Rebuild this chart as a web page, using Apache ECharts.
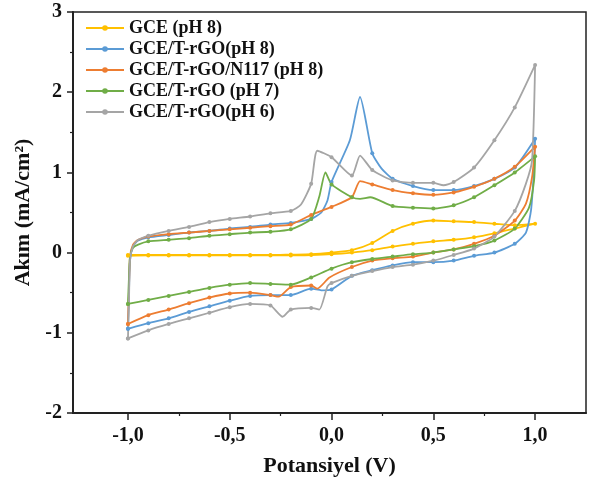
<!DOCTYPE html>
<html><head><meta charset="utf-8">
<script src="https://cdn.jsdelivr.net/npm/echarts@6/dist/echarts.min.js"></script>
<style>html,body{margin:0;padding:0;background:#fff}#c{width:594px;height:489px}</style>
</head><body><div id="c"></div>
<script>
const seriesNames = ['GCE (pH 8)', 'GCE/T-rGO(pH 8)', 'GCE/T-rGO/N117 (pH 8)', 'GCE/T-rGO (pH 7)', 'GCE/T-rGO(pH 6)'];
const xTickValues = [-1, -0.5, 0, 0.5, 1];
const xMinorTickValues = [-0.75, -0.25, 0.25, 0.75];
const yTickLabels = [-2, -1, 0, 1, 2, 3];

// GCE (pH 8)
const gceV = [-1.0,-0.9,-0.8,-0.7,-0.6,-0.5,-0.4,-0.3,-0.2,-0.1,0.0,0.1,0.2,0.3,0.4,0.5,0.6,0.7,0.8,0.9,1.0,
  0.9,0.8,0.7,0.6,0.5,0.4,0.3,0.2,0.1,0.0,-0.1,-0.2,-0.3,-0.4,-0.5,-0.6,-0.7,-0.8,-0.9,-1.0];
const gceI = [-0.03,-0.03,-0.03,-0.03,-0.03,-0.03,-0.03,-0.03,-0.025,-0.02,0.0,0.03,0.12,0.27,0.36,0.40,0.39,0.38,0.36,0.34,0.36,
  0.30,0.24,0.19,0.16,0.14,0.11,0.075,0.03,0.0,-0.02,-0.03,-0.035,-0.035,-0.035,-0.035,-0.035,-0.035,-0.035,-0.035,-0.04];

// GCE/T-rGO (pH 8)
const rgo8V = [-1.0,-0.995,-0.99,-0.975,-0.95,-0.9,-0.8,-0.7,-0.6,-0.5,-0.4,-0.3,-0.2,-0.1,-0.05,-0.02,0.0,0.09,0.14,0.2,0.245,0.3,0.4,0.5,0.6,0.7,0.8,0.9,1.0,
  0.995,0.98,0.955,0.9,0.8,0.7,0.6,0.5,0.4,0.3,0.2,0.1,0.0,-0.05,-0.1,-0.2,-0.3,-0.4,-0.5,-0.6,-0.7,-0.8,-0.9,-1.0];
const rgo8I = [-0.95,-0.5,-0.1,0.08,0.15,0.19,0.22,0.25,0.27,0.30,0.32,0.35,0.37,0.42,0.50,0.65,0.88,1.40,1.94,1.24,1.05,0.92,0.83,0.78,0.78,0.83,0.92,1.06,1.42,
  1.06,0.53,0.25,0.11,0.0,-0.04,-0.10,-0.12,-0.12,-0.16,-0.22,-0.29,-0.46,-0.47,-0.45,-0.53,-0.53,-0.54,-0.60,-0.67,-0.74,-0.82,-0.88,-0.95];

// GCE/T-rGO/N117 (pH 8)
const n117V = [-1.0,-0.995,-0.99,-0.975,-0.95,-0.9,-0.8,-0.7,-0.6,-0.5,-0.4,-0.3,-0.2,-0.1,0.0,0.1,0.14,0.2,0.3,0.4,0.5,0.6,0.7,0.8,0.9,1.0,
  0.985,0.955,0.9,0.8,0.7,0.6,0.5,0.4,0.3,0.2,0.1,-0.01,-0.07,-0.1,-0.2,-0.26,-0.3,-0.4,-0.5,-0.6,-0.7,-0.8,-0.9,-1.0];
const n117I = [-0.89,-0.45,-0.05,0.10,0.16,0.20,0.23,0.25,0.27,0.29,0.31,0.33,0.35,0.47,0.57,0.69,0.89,0.85,0.78,0.74,0.72,0.75,0.82,0.92,1.07,1.32,
  0.94,0.61,0.40,0.21,0.11,0.04,0.0,-0.05,-0.07,-0.10,-0.18,-0.31,-0.45,-0.41,-0.43,-0.55,-0.53,-0.50,-0.51,-0.56,-0.63,-0.71,-0.78,-0.89];

// GCE/T-rGO (pH 7)
const rgo7V = [-1.0,-0.995,-0.99,-0.975,-0.95,-0.9,-0.8,-0.7,-0.6,-0.5,-0.4,-0.3,-0.2,-0.1,-0.06,-0.03,0.0,0.1,0.14,0.19,0.3,0.4,0.5,0.6,0.7,0.8,0.9,1.0,
  0.995,0.97,0.9,0.8,0.7,0.6,0.5,0.4,0.3,0.2,0.1,0.0,-0.1,-0.2,-0.3,-0.4,-0.5,-0.6,-0.7,-0.8,-0.9,-1.0];
const rgo7I = [-0.64,-0.3,-0.05,0.06,0.10,0.14,0.16,0.18,0.21,0.23,0.25,0.26,0.29,0.42,0.70,1.0,0.85,0.69,0.67,0.69,0.58,0.56,0.55,0.59,0.69,0.84,1.0,1.2,
  0.9,0.56,0.30,0.15,0.08,0.04,0.0,-0.02,-0.05,-0.08,-0.12,-0.20,-0.31,-0.40,-0.39,-0.38,-0.40,-0.44,-0.49,-0.54,-0.59,-0.64];

// GCE/T-rGO (pH 6)
const rgo6V = [-1.0,-0.995,-0.99,-0.975,-0.95,-0.9,-0.8,-0.7,-0.6,-0.5,-0.4,-0.3,-0.2,-0.15,-0.1,-0.07,0.0,0.1,0.14,0.2,0.3,0.4,0.5,0.55,0.6,0.7,0.8,0.9,1.0,
  0.985,0.955,0.9,0.8,0.7,0.6,0.5,0.4,0.3,0.2,0.1,0.0,-0.02,-0.06,-0.1,-0.2,-0.24,-0.3,-0.4,-0.5,-0.6,-0.7,-0.8,-0.9,-1.0];
const rgo6I = [-1.07,-0.6,-0.1,0.08,0.16,0.21,0.27,0.32,0.38,0.42,0.45,0.49,0.52,0.60,0.86,1.27,1.19,0.96,1.21,1.03,0.90,0.87,0.87,0.84,0.88,1.06,1.40,1.81,2.34,
  1.15,0.86,0.52,0.20,0.05,-0.03,-0.10,-0.15,-0.18,-0.23,-0.29,-0.38,-0.42,-0.71,-0.69,-0.71,-0.80,-0.66,-0.64,-0.68,-0.75,-0.82,-0.89,-0.97,-1.07];

const colors = ['#FFC000', '#5B9BD5', '#ED7D31', '#70AD47', '#A5A5A5'];
const curves = [[gceV, gceI], [rgo8V, rgo8I], [n117V, n117I], [rgo7V, rgo7I], [rgo6V, rgo6I]];

const onGrid = v => Math.abs(v * 10 - Math.round(v * 10)) < 0.02;
const FONT = 'Liberation Serif';
const fmtX = v => v.toFixed(1).replace('.', ',');

const chart = echarts.init(document.getElementById('c'), null, {renderer: 'canvas'});
chart.setOption({
  animation: false,
  backgroundColor: '#fff',
  grid: {left: 73, right: 8, top: 12, bottom: 76, show: true, borderColor: '#222', borderWidth: 1.5, backgroundColor: 'transparent'},
  legend: {
    data: seriesNames, orient: 'vertical', left: 85, top: 19, padding: 0,
    itemWidth: 38, itemHeight: 7, itemGap: 3,
    textStyle: {fontFamily: FONT, fontWeight: 'bold', fontSize: 18, lineHeight: 17, color: '#111'}
  },
  xAxis: [{
    type: 'value', min: -1.27, max: 1.25,
    name: 'Potansiyel (V)', nameLocation: 'middle', nameGap: 42,
    nameTextStyle: {fontFamily: FONT, fontWeight: 'bold', fontSize: 22, color: '#111'},
    axisLine: {onZero: false, lineStyle: {color: '#222', width: 2}},
    axisTick: {show: true, customValues: xTickValues, length: 7, lineStyle: {color: '#222', width: 1.5}},
    axisLabel: {customValues: xTickValues, formatter: fmtX, margin: 13, fontFamily: FONT, fontWeight: 'bold', fontSize: 20, color: '#111'},
    splitLine: {show: false}
  }, {
    type: 'value', min: -1.27, max: 1.25, position: 'bottom',
    axisLine: {show: false, onZero: false}, axisLabel: {show: false}, splitLine: {show: false},
    axisTick: {show: true, customValues: xMinorTickValues, length: 3, lineStyle: {color: '#222', width: 1.2}}
  }],
  yAxis: {
    type: 'value', min: -2, max: 3, interval: 1,
    name: 'Akım (mA/cm²)', nameLocation: 'middle', nameGap: 37,
    nameTextStyle: {fontFamily: FONT, fontWeight: 'bold', fontSize: 22, color: '#111'},
    axisLine: {show: true, onZero: false, lineStyle: {color: '#222', width: 2}},
    axisTick: {show: true, length: 6, lineStyle: {color: '#222', width: 1.5}},
    minorTick: {show: true, splitNumber: 2, length: 3, lineStyle: {color: '#222', width: 1.2}},
    axisLabel: {margin: 11, fontFamily: FONT, fontWeight: 'bold', fontSize: 20, color: '#111',
      formatter: v => yTickLabels.includes(v) ? String(v) : ''},
    splitLine: {show: false}
  },
  series: curves.map((c, k) => ({
    name: seriesNames[k], type: 'line', xAxisIndex: 0,
    data: c[0].map((v, j) => ({value: [v, c[1][j]], symbol: onGrid(v) ? 'circle' : 'none'})),
    symbol: 'circle', symbolSize: 4, showAllSymbol: true, smooth: 0.2,
    lineStyle: {color: colors[k], width: 1.8},
    itemStyle: {color: colors[k]},
    emphasis: {disabled: true}
  }))
});
</script></body></html>
